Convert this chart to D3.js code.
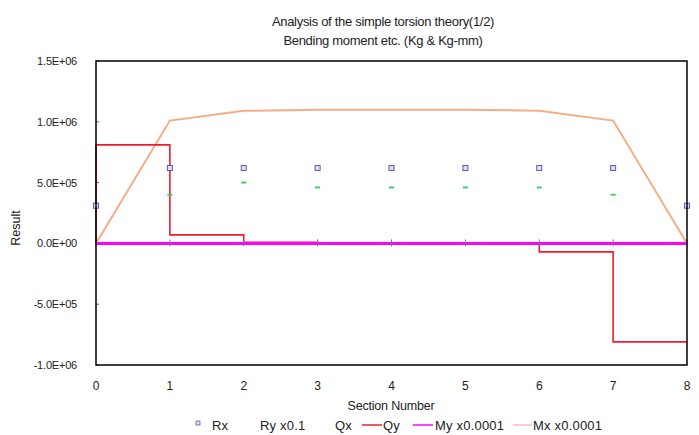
<!DOCTYPE html>
<html><head><meta charset="utf-8">
<script src="https://cdn.jsdelivr.net/npm/d3@7"></script>
<style>
body{margin:0;background:#fff;}
text{font-family:"Liberation Sans",Arial,sans-serif;fill:#222;}
</style></head>
<body><svg id="c" width="699" height="435"></svg>
<script>
const sections = [0,1,2,3,4,5,6,7,8];
const rx   = [0.31e6,0.62e6,0.62e6,0.62e6,0.62e6,0.62e6,0.62e6,0.62e6,0.31e6];
const ry01 = [0.31e6,0.40e6,0.50e6,0.46e6,0.46e6,0.46e6,0.46e6,0.40e6,0.31e6];
const qx   = [0,0,0,0,0,0,0,0,0];
const qy   = [0.81e6,0.07e6,0.01e6,0.002e6,0,-0.002e6,-0.07e6,-0.81e6,-0.81e6];
const my   = [0,0,0,0,0,0,0,0,0];
const mx   = [0,1.01e6,1.09e6,1.10e6,1.10e6,1.10e6,1.09e6,1.01e6,0];
const yTicks = [-1.0e6,-0.5e6,0,0.5e6,1.0e6,1.5e6];
const yTickLabels = ["-1.0E+06","-5.0E+05","0.0E+00","5.0E+05","1.0E+06","1.5E+06"];
const legendNames = ["Rx","Ry x0.1","Qx","Qy","My x0.0001","Mx x0.0001"];
const titleLines = ["Analysis of the simple torsion theory(1/2)","Bending moment etc. (Kg & Kg-mm)"];

const svg = d3.select("#c");
const L=96, R=687, T=61, B=365;
const x = d3.scaleLinear().domain([0,8]).range([L,R]);
const y = d3.scaleLinear().domain([-1.0e6,1.5e6]).range([B,T]);

// titles
svg.selectAll(".title").data(titleLines).join("text")
  .attr("x",383).attr("y",(d,i)=>26+i*19).attr("text-anchor","middle")
  .attr("font-size",13).attr("letter-spacing",-0.3).text(d=>d);

// y axis labels
svg.selectAll(".ytl").data(yTicks).join("text")
  .attr("x",77).attr("y",d=>y(d)+4).attr("text-anchor","end")
  .attr("font-size",11).attr("letter-spacing",-0.2).text((d,i)=>yTickLabels[i]);
svg.selectAll(".ytk").data(yTicks).join("line")
  .attr("x1",L).attr("x2",L+3).attr("y1",d=>y(d)).attr("y2",d=>y(d))
  .attr("stroke","#666").attr("stroke-width",1);

// x labels
svg.selectAll(".xtl").data(sections).join("text")
  .attr("x",d=>x(d)).attr("y",390).attr("text-anchor","middle")
  .attr("font-size",12).text(d=>d);

// axis titles
svg.append("text").attr("transform","translate(20,228) rotate(-90)")
  .attr("text-anchor","middle").attr("font-size",12.5).text("Result");
svg.append("text").attr("x",391).attr("y",410).attr("text-anchor","middle")
  .attr("font-size",12.5).attr("letter-spacing",-0.2).text("Section Number");

// Mx line
svg.append("path").datum(sections)
  .attr("d",d3.line().x(d=>x(d)).y((d,i)=>y(mx[i])))
  .attr("fill","none").attr("stroke","#f4ad85").attr("stroke-width",2);

// Qy step
svg.append("path").datum(sections)
  .attr("d",d3.line().curve(d3.curveStepAfter).x(d=>x(d)).y((d,i)=>y(qy[i])))
  .attr("fill","none").attr("stroke","#ee1c2e").attr("stroke-width",1.6);
svg.append("line").attr("x1",x(0)).attr("x2",x(0)).attr("y1",y(0)).attr("y2",y(qy[0]))
  .attr("stroke","#ee1c2e").attr("stroke-width",1.6);

// Ry x0.1 markers
svg.selectAll(".ry").data(sections).join("line")
  .attr("x1",d=>x(d)-2.5).attr("x2",d=>x(d)+2.5)
  .attr("y1",(d,i)=>y(ry01[i])).attr("y2",(d,i)=>y(ry01[i]))
  .attr("stroke","#44cc66").attr("stroke-width",2);

// Rx markers
svg.selectAll(".rx").data(sections).join("rect")
  .attr("x",d=>x(d)-2.5).attr("y",(d,i)=>y(rx[i])-2.5)
  .attr("width",5).attr("height",5)
  .attr("fill","#dde0f4").attr("stroke","#5a5ac0").attr("stroke-width",1);

// My line (zero)
svg.append("path").datum(sections)
  .attr("d",d3.line().x(d=>x(d)).y((d,i)=>y(my[i])))
  .attr("fill","none").attr("stroke","#ff00ff").attr("stroke-width",3);

// ticks on zero line
svg.selectAll(".xtk").data(sections).join("line")
  .attr("x1",d=>x(d)).attr("x2",d=>x(d)).attr("y1",y(0)-4).attr("y2",y(0)+3)
  .attr("stroke","#777").attr("stroke-width",1);

// plot border
svg.append("rect").attr("x",L).attr("y",T).attr("width",R-L).attr("height",B-T)
  .attr("fill","none").attr("stroke","#000").attr("stroke-width",1.5);

// legend
const lg = svg.append("g");
const ly = 430;
lg.append("rect").attr("x",196).attr("y",ly-9).attr("width",4).attr("height",4)
  .attr("fill","#dde0f4").attr("stroke","#5a5ac0").attr("stroke-width",0.8);
const legendItems = [
  {x:212, line:null},
  {x:260, line:null},
  {x:335, line:null},
  {x:383, line:[362,382,"#ee1c2e"]},
  {x:435, line:[413,433,"#ff00ff"]},
  {x:533, line:[513,532,"#f8b8c8"]}
];
legendItems.forEach((it,i)=>{
  if(it.line) lg.append("line").attr("x1",it.line[0]).attr("x2",it.line[1])
    .attr("y1",ly-5).attr("y2",ly-5).attr("stroke",it.line[2]).attr("stroke-width",1.5);
  lg.append("text").attr("x",it.x).attr("y",ly).attr("font-size",13)
    .attr("letter-spacing",0.2).text(legendNames[i]);
});
</script></body></html>
